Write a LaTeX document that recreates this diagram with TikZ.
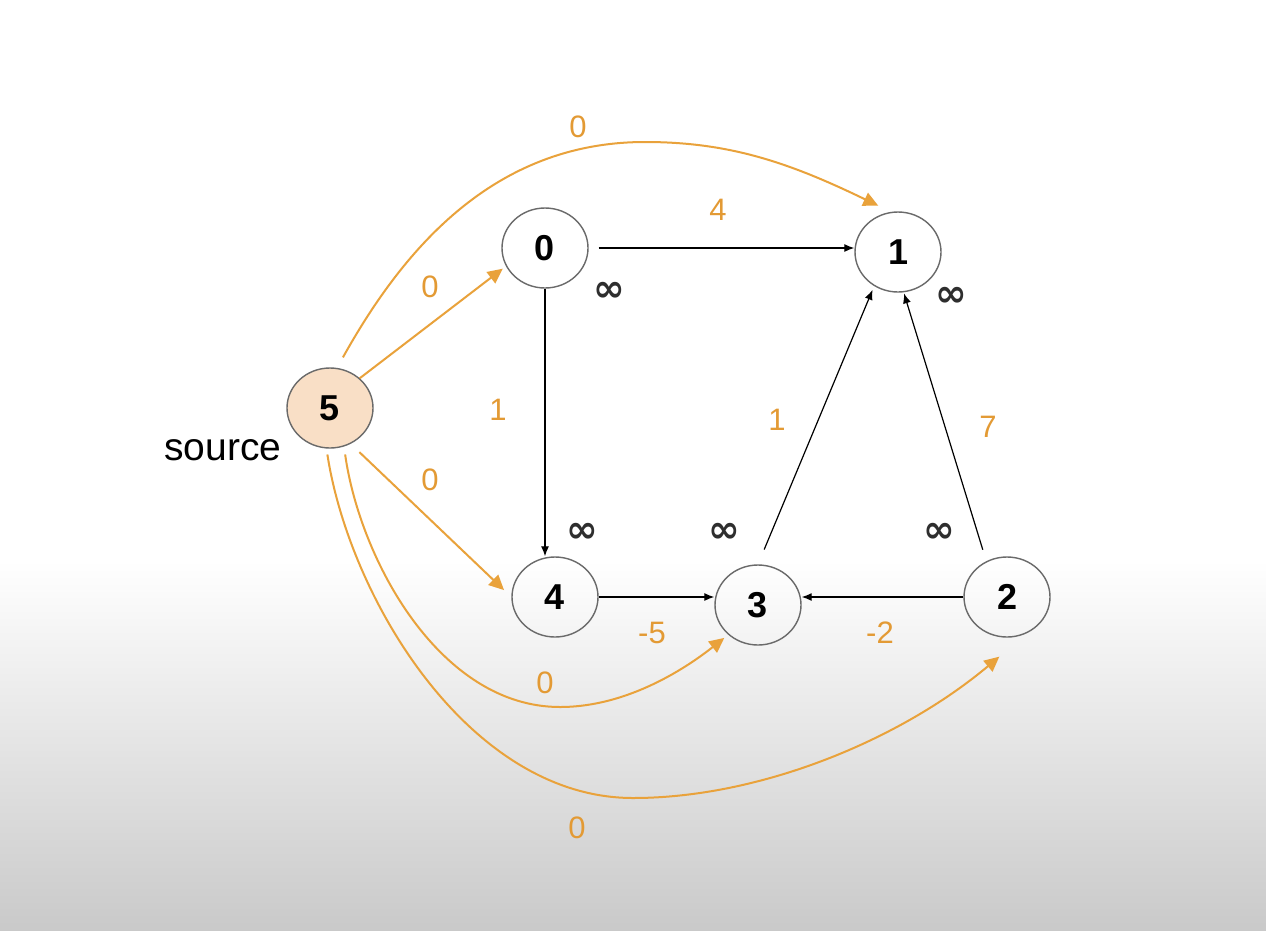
\documentclass[tikz,border=0pt]{standalone}
\usepackage{fontspec}
\setmainfont{Liberation Sans}
\newfontfamily\symfont{DejaVu Sans}
\usetikzlibrary{arrows.meta,shapes.geometric}
\definecolor{edgeorange}{HTML}{E9A23B}
\definecolor{labelorange}{HTML}{E39A34}
\definecolor{srcfill}{HTML}{F9DFC6}
\definecolor{ringgray}{HTML}{6A6A6A}
\begin{document}
\begin{tikzpicture}[x=1pt,y=-1pt,
  vertex/.style={ellipse, draw=ringgray, line width=1.4pt, minimum width=86pt, minimum height=80pt, inner sep=0pt, font=\fontsize{36}{36}\selectfont\bfseries},
  blackedge/.style={-{Latex[length=10pt,width=8pt]}, line width=1.2pt, black},
  orangeedge/.style={-{Triangle[length=15pt,width=14pt]}, line width=2pt, edgeorange},
  wlabel/.style={text=labelorange, font=\fontsize{31}{31}\selectfont, inner sep=0pt},
  inflabel/.style={text=black!82, font=\symfont\bfseries\fontsize{38}{38}\selectfont, inner sep=0pt},
  plainlabel/.style={text=black, font=\fontsize{39}{39}\selectfont, inner sep=0pt}]
\useasboundingbox (0,0) rectangle (1266,930);
\fill[white] (0,0) rectangle (1266,560);
\shade[top color=white, bottom color=black!21] (0,560) rectangle (1266,930);

% vertices
\node[vertex, fill=srcfill] (n5) at (330,408) {5};
\node[vertex] (n0) at (545,248) {0};
\node[vertex] (n1) at (898,252) {1};
\node[vertex] (n4) at (555,597) {4};
\node[vertex] (n3) at (758,605) {3};
\node[vertex] (n2) at (1007,597) {2};
\node[plainlabel] (src) at (223,450) {source};

% black edges
\draw[blackedge, shorten <=10pt] (n0) -- (n0 -| n1.west);
\draw[blackedge] (n0) -- (n0 |- n4.north);
\draw[blackedge] (n4) -- (n4 -| n3.west);
\draw[blackedge] (n2) -- (n2 -| n3.east);
\draw[blackedge, shorten <=16pt, shorten >=4pt] (n3.north) -- (n1.235);
\draw[blackedge, shorten <=12pt, shorten >=1pt] (n2.120) -- (n1.-82);

% orange edges
\draw[orangeedge, shorten >=4pt] (n5.45) -- (n0.205);
\draw[orangeedge, shorten <=12pt, shorten >=10pt] (n5.-60) -- (n4.180);
\draw[orangeedge, shorten <=12pt, shorten >=14pt] (n5.80) .. controls (400,255) and (490,142) .. (645,142)
  .. controls (730,142) and (790,163) .. (n1.100);
\draw[orangeedge, shorten <=8pt, shorten >=5pt] (n5.-70) .. controls (360,560) and (440,707) .. (560,707)
  .. controls (630,707) and (690,665) .. (n3.225);
\draw[orangeedge, shorten <=6pt, shorten >=37pt] (n5.-95) .. controls (350,600) and (470,798) .. (633,798)
  .. controls (760,798) and (900,740) .. (n2.-60);

% weight labels
\node[wlabel] (w51) at (578,127) {0};
\node[wlabel] (w01) at (718,210) {4};
\node[wlabel] (w50) at (430,287) {0};
\node[wlabel] (w04) at (498,410) {1};
\node[wlabel] (w31) at (777,420) {1};
\node[wlabel] (w21) at (988,427) {7};
\node[wlabel] (w54) at (430,480) {0};
\node[wlabel] (w43) at (652,633) {-5};
\node[wlabel] (w23) at (880,633) {-2};
\node[wlabel] (w53) at (545,683) {0};
\node[wlabel] (w52) at (577,828) {0};

% distance labels
\node[inflabel] (d0) at (609,292) {∞};
\node[inflabel] (d1) at (951,297) {∞};
\node[inflabel] (d4) at (582,533) {∞};
\node[inflabel] (d3) at (724,533) {∞};
\node[inflabel] (d2) at (939,533) {∞};
\end{tikzpicture}
\end{document}
